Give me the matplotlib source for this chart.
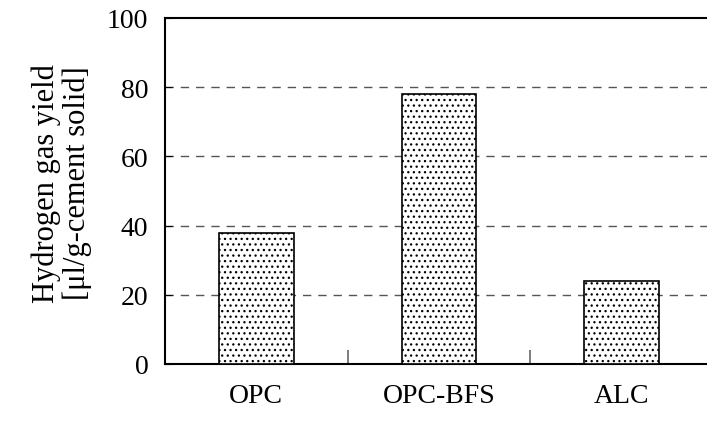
import matplotlib.pyplot as plt
import numpy as np

# hydrogen gas yield per cement type
categories = ['OPC', 'OPC-BFS', 'ALC']
yield_values = [38, 78, 24]
y_ticks = [0, 20, 40, 60, 80, 100]

plt.rcParams['font.family'] = ['Liberation Serif', 'DejaVu Serif']
plt.rcParams['hatch.linewidth'] = 0.9
plt.rcParams['hatch.color'] = '#444444'

fig = plt.figure(figsize=(7.07, 4.27), dpi=100)
# axes runs off the right edge of the figure on purpose
ax = fig.add_axes([165 / 707, 1 - 365 / 427, 548 / 707, 346 / 427])

x = np.arange(len(categories))
ax.bar(x, yield_values, width=0.41, color='white', edgecolor='black',
       linewidth=1.2, hatch='...', zorder=3)

ax.set_xlim(-0.5, 2.5)
ax.set_ylim(0, 100)
ax.set_yticks(y_ticks)
ax.tick_params(axis='y', labelsize=20, direction='in', length=5, pad=12)
ax.set_xticks(x)
ax.set_xticklabels(categories)
ax.tick_params(axis='x', which='major', length=0, labelsize=20, pad=14)
ax.set_xticks([0.5, 1.5], minor=True)
ax.tick_params(axis='x', which='minor', direction='in', length=10,
               color='#666666', width=1.2)

for v in y_ticks[1:-1]:
    ax.axhline(v, color='#555555', linestyle=(0, (6, 5)), linewidth=1.0, zorder=1)

for side in ['left', 'bottom', 'top']:
    ax.spines[side].set_linewidth(1.5)
ax.spines['right'].set_visible(False)

ax.set_ylabel('Hydrogen gas yield\n[\u03bcl/g-cement solid]', fontsize=22,
              linespacing=1.05)
ax.yaxis.set_label_coords(-0.133, 0.525)

fig.savefig('out.png', dpi=100)
